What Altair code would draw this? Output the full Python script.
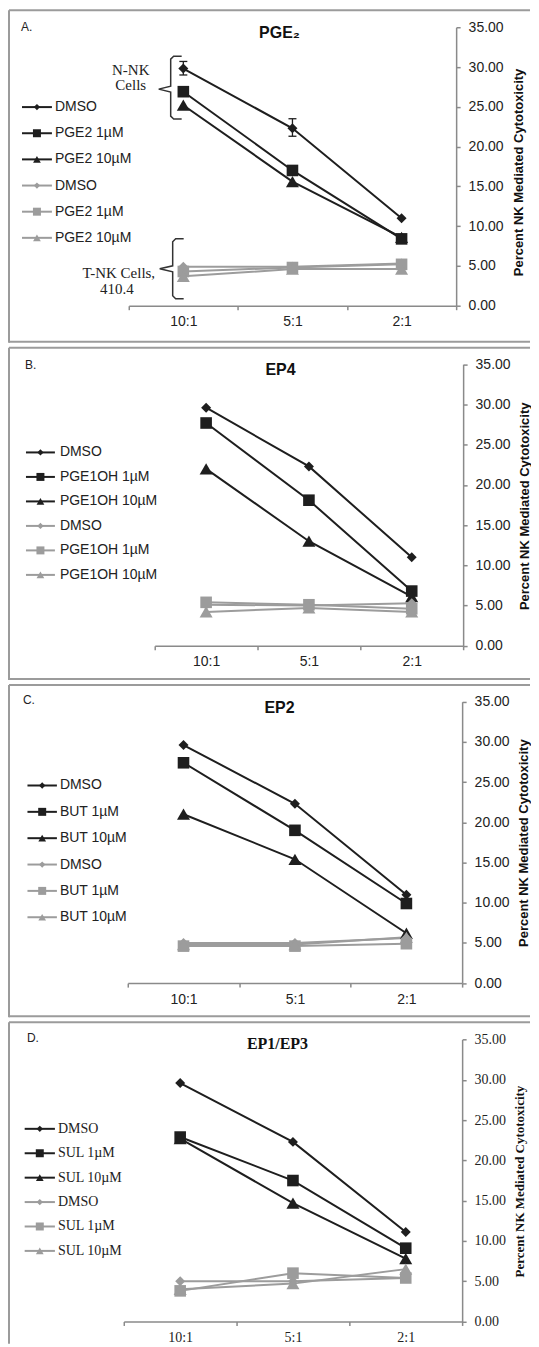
import altair as alt
import pandas as pd

ratios = ["10:1", "5:1", "2:1"]
treatments = ["DMSO", "1µM", "10µM"]
groups = ["N-NK", "T-NK"]

# ---- Panel A: PGE2 ----
a_drug = "PGE2"
a_n_dmso = [29.8, 22.3, 11.0]
a_n_1 = [26.9, 17.0, 8.4]
a_n_10 = [25.2, 15.6, 8.6]
a_t_dmso = [4.9, 4.9, 5.3]
a_t_1 = [4.3, 4.8, 5.2]
a_t_10 = [3.7, 4.6, 4.6]
a_err_ratio = ["10:1", "5:1"]
a_err_low = [29.0, 21.3]
a_err_high = [30.7, 23.5]

# ---- Panel B: EP4 ----
b_drug = "PGE1OH"
b_n_dmso = [29.6, 22.3, 11.0]
b_n_1 = [27.7, 18.1, 6.8]
b_n_10 = [22.0, 13.0, 6.1]
b_t_dmso = [5.1, 5.0, 5.3]
b_t_1 = [5.4, 5.1, 4.6]
b_t_10 = [4.2, 4.7, 4.2]

# ---- Panel C: EP2 ----
c_drug = "BUT"
c_n_dmso = [29.6, 22.3, 11.0]
c_n_1 = [27.4, 19.0, 9.9]
c_n_10 = [21.0, 15.4, 6.2]
c_t_dmso = [5.0, 5.0, 5.6]
c_t_1 = [4.6, 4.6, 4.9]
c_t_10 = [4.8, 4.8, 5.7]

# ---- Panel D: EP1/EP3 ----
d_drug = "SUL"
d_n_dmso = [29.6, 22.3, 11.1]
d_n_1 = [22.9, 17.5, 9.1]
d_n_10 = [22.7, 14.7, 7.8]
d_t_dmso = [5.0, 5.0, 5.4]
d_t_1 = [3.8, 6.0, 5.4]
d_t_10 = [4.0, 4.7, 6.5]

y_ticks = [0, 5, 10, 15, 20, 25, 30, 35]
y_title = "Percent NK Mediated Cytotoxicity"

SANS = "Liberation Sans"
SERIF = "Liberation Serif"
DARK = "#1e1e1e"
GRAY = "#9c9c9c"
AX = "#8a8a8a"
BORDER = "#9b9b9b"
W = 523

color_scale = alt.Scale(domain=groups, range=[DARK, GRAY])
shape_scale = alt.Scale(domain=treatments, range=["diamond", "square", "triangle-up"])
legend_sizes = {"DMSO": 40, "1µM": 64, "10µM": 60}


def series_df(lists):
    rows = []
    for k, vals in enumerate(lists):
        for r, v in zip(ratios, vals):
            rows.append(dict(ratio=r, value=v, group=groups[k // 3],
                             treat=treatments[k % 3], sid=k))
    return pd.DataFrame(rows)


def legend_df(drug, rows):
    labels = ["DMSO", f"{drug} 1µM", f"{drug} 10µM"] * 2
    step = (rows[1] - rows[0]) / 5
    return pd.DataFrame(dict(ly=[rows[0] + i * step for i in range(6)], label=labels,
                             group=[groups[i // 3] for i in range(6)],
                             treat=[treatments[i % 3] for i in range(6)]))


def txt(s, x, y, size, font, weight="normal", align="center", color="#222"):
    return alt.Chart(alt.Data(values=[{"t": s}])).mark_text(
        fontSize=size, font=font, fontWeight=weight, align=align,
        baseline="middle", color=color
    ).encode(x=alt.value(x), y=alt.value(y), text=alt.Text("t:N"))


def brace(points):
    df = pd.DataFrame(dict(bx=[p[0] for p in points], by=[p[1] for p in points],
                           o=list(range(len(points)))))
    return alt.Chart(df).mark_line(color="#333", strokeWidth=1.5).encode(
        x=alt.X("bx:Q", scale=None), y=alt.Y("by:Q", scale=None), order="o:Q")


def rule(x, x2, y, y2):
    return alt.Chart(alt.Data(values=[{"a": 1}])).mark_rule(
        color=BORDER, strokeWidth=2).encode(
        x=alt.value(x), x2=alt.value(x2), y=alt.value(y), y2=alt.value(y2))


def panel(letter, title, drug, lists, geo, font, H, bottom=True, extra=None, err=None):
    xr, yr, leg = geo["x"], geo["y"], geo["leg"]
    df = series_df(lists)
    xs = alt.Scale(type="band", domain=ratios, range=xr, paddingInner=0, paddingOuter=0)
    ys = alt.Scale(domain=[0, 35], range=yr, nice=False, zero=True)
    x_axis = alt.Axis(title=None, orient="bottom", offset=yr[0] - H, tickBand="extent",
                      labelAngle=0, labelFont=font, labelFontSize=14, labelColor="#222",
                      labelPadding=5, tickSize=4, tickColor=AX, tickWidth=1.5,
                      domainColor=AX, domainWidth=1.5, grid=False)
    y_axis = alt.Axis(title=y_title, orient="right", offset=xr[1] - W, values=y_ticks,
                      format=".2f", grid=False, tickSize=4, tickColor=AX, tickWidth=1.5,
                      domainColor=AX, domainWidth=1.5, labelFont=font, labelFontSize=14,
                      labelColor="#222", labelPadding=8, titleAngle=270,
                      titleX=geo["tx"], titleY=geo["ty"], titleAlign="center",
                      titleBaseline="middle", titleFont=font, titleFontSize=13,
                      titleFontWeight="bold", titleColor="#111")
    X = alt.X("ratio:N", sort=ratios, bandPosition=0.5, scale=xs, axis=x_axis)

    def Y(f):
        return alt.Y(f"{f}:Q", scale=ys, axis=y_axis)

    base = alt.Chart(df)
    col = alt.Color("group:N", scale=color_scale, legend=None)
    shp = alt.Shape("treat:N", scale=shape_scale, legend=None)
    lines = base.mark_line(strokeWidth=2).encode(
        x=X, y=Y("value"), color=col, detail="sid:N")
    pts = base.mark_point(filled=True, opacity=1).encode(
        x=X, y=Y("value"), color=col, shape=shp,
        size=alt.Size("treat:N", scale=alt.Scale(domain=treatments, range=[100, 170, 150]),
                      legend=None))
    layers = [lines, pts]
    if err is not None:
        edf = pd.DataFrame(dict(ratio=err[0], lo=err[1], hi=err[2]))
        eb = alt.Chart(edf)
        layers.append(eb.mark_rule(color=DARK, strokeWidth=1.3).encode(
            x=X, y=Y("lo"), y2="hi:Q"))
        for f in ["lo", "hi"]:
            layers.append(eb.mark_point(shape="stroke", color=DARK, strokeWidth=1.3,
                                        size=64, opacity=1).encode(x=X, y=Y(f)))

    ldf = legend_df(drug, leg["rows"])
    lb = alt.Chart(ldf)
    ly = alt.Y("ly:Q", scale=None)
    layers.append(lb.mark_rule(strokeWidth=2).encode(
        x=alt.value(leg["x0"]), x2=alt.value(leg["x1"]), y=ly, color=col))
    for t in treatments:
        layers.append(lb.transform_filter(alt.datum.treat == t).mark_point(
            filled=True, opacity=1, size=legend_sizes[t]).encode(
            x=alt.value((leg["x0"] + leg["x1"]) / 2), y=ly, color=col, shape=shp))
    layers.append(lb.mark_text(align="left", baseline="middle", font=font, fontSize=14,
                               color="#222").encode(x=alt.value(leg["tx"]), y=ly,
                                                    text="label:N"))

    layers += [txt(letter, geo["lx"], geo["ly"], 12, SANS, align="left"),
               txt(title, geo["hx"], geo["hy"], 16, font, weight="bold", color="#111")]
    if extra:
        layers += extra
    layers += [rule(1, W, 0, 0), rule(1, 1, 0, H)]
    if bottom:
        layers.append(rule(1, W, H - 1, H - 1))

    return alt.layer(*layers).properties(width=W, height=H)


annot_a = [
    txt("N-NK", 123, 60, 15, SERIF),
    txt("Cells", 123, 75, 15, SERIF),
    txt("T-NK  Cells,", 111, 263, 15, SERIF),
    txt("410.4", 109, 279, 15, SERIF),
    brace([(174, 46), (166, 46), (163, 49), (163, 76), (151, 79), (163, 82),
           (163, 106), (166, 109), (174, 109)]),
    brace([(176, 229), (168, 229), (165, 232), (165, 256), (152, 259), (165, 262),
           (165, 286), (168, 289), (176, 289)]),
]

pA = panel("A.", "PGE₂", a_drug, [a_n_dmso, a_n_1, a_n_10, a_t_dmso, a_t_1, a_t_10],
           dict(x=[121, 449], y=[296, 17], tx=62, ty=162, lx=13, ly=17, hx=272, hy=23,
                leg=dict(rows=[97, 228], x0=14, x1=44, tx=47)),
           SANS, 333, extra=annot_a, err=(a_err_ratio, a_err_low, a_err_high))
pB = panel("B.", "EP4", b_drug, [b_n_dmso, b_n_1, b_n_10, b_t_dmso, b_t_1, b_t_10],
           dict(x=[147, 456], y=[298.7, 16.7], tx=61, ty=158.5, lx=17, ly=17, hx=273, hy=22,
                leg=dict(rows=[105, 227.7], x0=18, x1=47, tx=52)),
           SANS, 333)
pC = panel("C.", "EP2", c_drug, [c_n_dmso, c_n_1, c_n_10, c_t_dmso, c_t_1, c_t_10],
           dict(x=[120, 455], y=[298.7, 16.7], tx=61, ty=158, lx=15, ly=15, hx=272, hy=23,
                leg=dict(rows=[100.7, 232.7], x0=19.5, x1=49, tx=52)),
           SANS, 333)
pD = panel("D.", "EP1/EP3", d_drug, [d_n_dmso, d_n_1, d_n_10, d_t_dmso, d_t_1, d_t_10],
           dict(x=[116, 455], y=[299.7, 17.3], tx=57, ty=159, lx=19, ly=16, hx=270, hy=22,
                leg=dict(rows=[106.7, 229], x0=16.7, x1=47, tx=50)),
           SERIF, 322, bottom=False)

chart = alt.vconcat(pA, pB, pC, pD, spacing=3).properties(
    padding={"left": 0, "top": 0, "right": 0, "bottom": 0},
).configure_view(stroke=None)

chart.save("out.html", embed_options={"renderer": "svg", "actions": False})
